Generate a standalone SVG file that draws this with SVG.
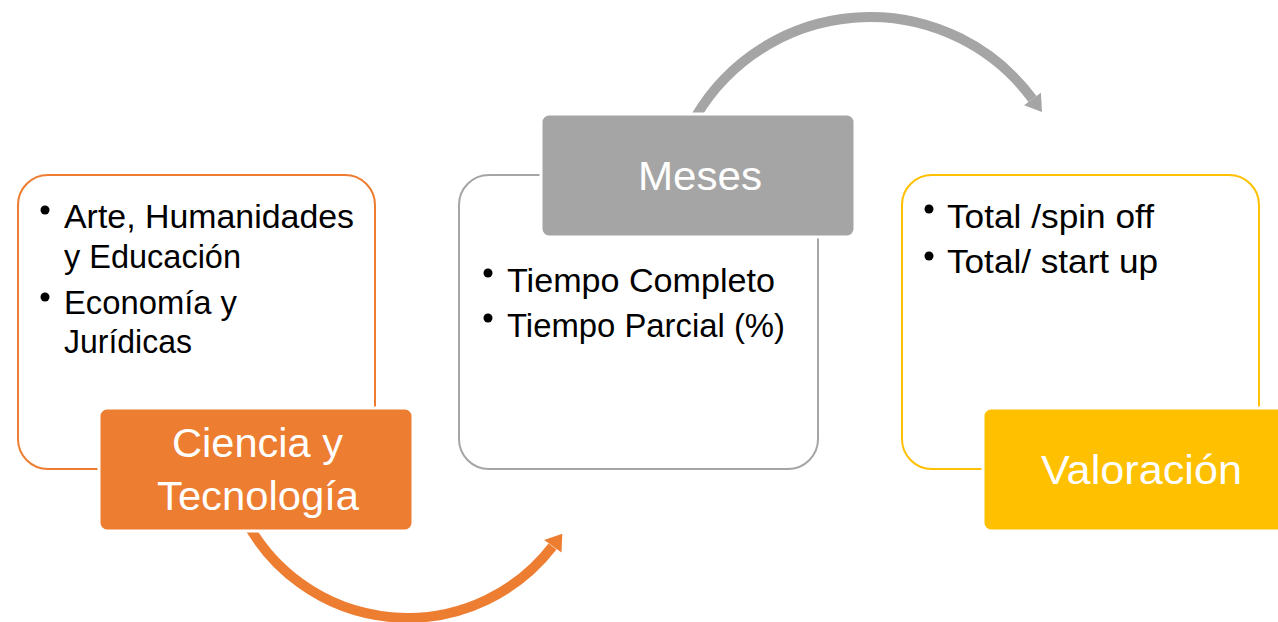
<svg xmlns="http://www.w3.org/2000/svg" width="1278" height="622" viewBox="0 0 1278 622">
<style>
.frame{fill:#FFFFFF;stroke-width:2}
.lbl{stroke:#FFFFFF;stroke-width:3}
.body{font-family:"Liberation Sans",Arial,sans-serif;font-size:33px;fill:#000000}
.head{font-family:"Liberation Sans",Arial,sans-serif;font-size:40px;fill:#FFFFFF}
.dot{fill:#000000}
.arc{fill:none;stroke-width:10}
</style>
<rect width="1278" height="622" fill="#FFFFFF"/>
<g id="connectors">
<path class="arc" stroke="#ED7D31" d="M 245 519 A 183 183 0 0 0 552.5 546.5"/>
<polygon fill="#ED7D31" points="562.3,533.8 561.5,552.5 544.2,540.1"/>
<path class="arc" stroke="#A5A5A5" d="M 690 127.3 A 202 202 0 0 1 1032.5 99"/>
<polygon fill="#A5A5A5" points="1042,111.9 1040.9,92.8 1024.1,105.2"/>
</g>
<g id="node-ciencia">
<rect class="frame" stroke="#ED7D31" x="18" y="175" width="357" height="294" rx="30" ry="30"/>
<circle class="dot" cx="45" cy="210" r="4.5"/>
<circle class="dot" cx="45" cy="297" r="4.5"/>
<text class="body" x="64" y="228" textLength="290" lengthAdjust="spacingAndGlyphs">Arte, Humanidades</text>
<text class="body" x="64" y="268" textLength="177" lengthAdjust="spacingAndGlyphs">y Educación</text>
<text class="body" x="64" y="314" textLength="173" lengthAdjust="spacingAndGlyphs">Economía y</text>
<text class="body" x="64" y="353" textLength="128" lengthAdjust="spacingAndGlyphs">Jurídicas</text>
<rect class="lbl" fill="#ED7D31" x="99" y="408" width="314" height="123" rx="8" ry="8"/>
<text class="head" x="172" y="457" textLength="171" lengthAdjust="spacingAndGlyphs">Ciencia y</text>
<text class="head" x="157" y="510" textLength="202" lengthAdjust="spacingAndGlyphs">Tecnología</text>
</g>
<g id="node-meses">
<rect class="frame" stroke="#A5A5A5" x="459" y="175" width="359" height="294" rx="30" ry="30"/>
<circle class="dot" cx="488" cy="273" r="4.5"/>
<circle class="dot" cx="488" cy="318" r="4.5"/>
<text class="body" x="507" y="292" textLength="268" lengthAdjust="spacingAndGlyphs">Tiempo Completo</text>
<text class="body" x="507" y="337" textLength="278" lengthAdjust="spacingAndGlyphs">Tiempo Parcial (%)</text>
<rect class="lbl" fill="#A5A5A5" x="541" y="114" width="314" height="123" rx="8" ry="8"/>
<text class="head" x="638" y="190" textLength="124" lengthAdjust="spacingAndGlyphs">Meses</text>
</g>
<g id="node-valoracion">
<rect class="frame" stroke="#FFC000" x="902" y="175" width="357" height="294" rx="30" ry="30"/>
<circle class="dot" cx="929" cy="209" r="4.5"/>
<circle class="dot" cx="929" cy="256" r="4.5"/>
<text class="body" x="947" y="228" textLength="207" lengthAdjust="spacingAndGlyphs">Total /spin off</text>
<text class="body" x="947" y="273" textLength="211" lengthAdjust="spacingAndGlyphs">Total/ start up</text>
<rect class="lbl" fill="#FFC000" x="983" y="408" width="314" height="123" rx="8" ry="8"/>
<text class="head" x="1041" y="484" textLength="201" lengthAdjust="spacingAndGlyphs">Valoración</text>
</g>
</svg>
